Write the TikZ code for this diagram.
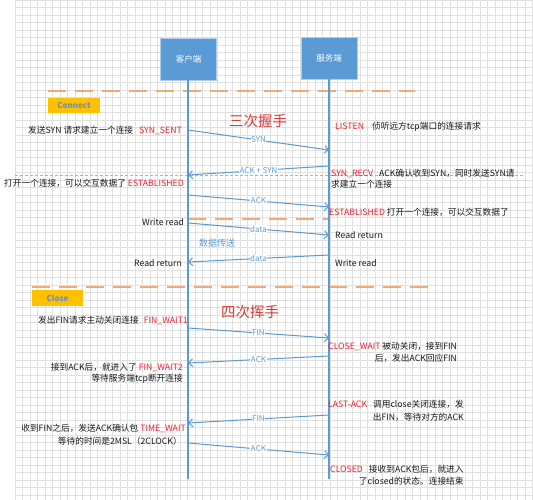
\documentclass[tikz,border=0pt]{standalone}
\usepackage{fontspec}
\setmainfont{Noto Sans CJK SC}
\usetikzlibrary{arrows.meta}
\definecolor{lb}{HTML}{5B9BD5}
\definecolor{gridc}{HTML}{E0E0E0}
\definecolor{orgd}{HTML}{F4A874}
\definecolor{gold}{HTML}{FFC000}
\definecolor{tagtxt}{HTML}{6F90B8}
\definecolor{rd}{HTML}{F0202E}
\definecolor{ttl}{HTML}{D93A3A}
\definecolor{txt}{HTML}{1A1A1A}
\tikzset{
  box/.style={draw=lb!50!white, line width=0.8pt, fill=lb, text=white, minimum width=56pt, minimum height=42pt, inner sep=0pt, font=\fontsize{8.5}{9}\selectfont},
  life/.style={draw=lb, line width=1.2pt},
  msg/.style={draw=lb, line width=1pt, -{Straight Barb[length=4pt,width=8pt]}},
  lbl/.style={fill=white, text=lb, inner sep=0.6pt, font=\fontsize{8}{9}\selectfont},
  tag/.style={fill=gold, text=tagtxt, inner sep=0pt, font=\fontsize{8}{9}\selectfont\bfseries},
  odash/.style={draw=orgd, line width=1.4pt, dash pattern=on 18pt off 9pt},
  gdash/.style={draw=black!30, line width=0.6pt, dash pattern=on 3pt off 2pt},
  note/.style={text=txt, inner sep=0pt, font=\fontsize{8.7}{10}\selectfont},
  title/.style={text=ttl, inner sep=0pt, font=\fontsize{14.5}{16}\selectfont},
}
\newcommand{\st}[1]{\textcolor{rd}{#1}}
\begin{document}
\begin{tikzpicture}[x=1pt,y=-1pt]
\useasboundingbox (0,0) rectangle (533,500);
\fill[white] (0,0) rectangle (533,500);
% grid
\foreach \i in {0,...,69} \draw[gridc, line width=0.4pt] (15+\i*7.5,0) -- (15+\i*7.5,500);
\foreach \j in {0,...,66} \draw[gridc, line width=0.4pt] (15,\j*7.5) -- (533,\j*7.5);

% section dashed lines
\draw[odash] (48,91) -- (415,91);
\draw[odash] (188,219) -- (329,219);
\draw[odash] (32,287) -- (430,287);
\draw[gdash] (15,175) -- (523,175);

% tags
\node[tag, minimum width=52pt, minimum height=15pt] (connect) at (74,105.5) {Connect};
\node[tag, minimum width=51pt, minimum height=16pt] (close) at (57.5,298) {Close};

% participants
\node[box] (cli) at (188.5,59) {客户端};
\node[box] (srv) at (329,58) {服务端};
\coordinate (cend) at (188,479);
\coordinate (send) at (329,479);
\draw[life] (cli.south -| cend) -- (cend);
\draw[life] (srv.south -| send) -- (send);

% message coordinates
\coordinate (c1) at (188,130); \coordinate (s1) at (329,150);
\coordinate (s2) at (329,166); \coordinate (c2) at (188,175);
\coordinate (c3) at (188,195); \coordinate (s3) at (329,207);
\coordinate (c4) at (188,223); \coordinate (s4) at (329,235);
\coordinate (s5) at (329,255); \coordinate (c5) at (188,262);
\coordinate (c6) at (188,328); \coordinate (s6) at (329,338);
\coordinate (s7) at (329,356); \coordinate (c7) at (188,363);
\coordinate (s8) at (329,415); \coordinate (c8) at (188,423);
\coordinate (c9) at (188,443); \coordinate (s9) at (329,455);

\draw[msg] (c1) -- node[lbl]{SYN} (s1);
\draw[msg] (s2) -- node[lbl]{ACK + SYN} (c2);
\draw[msg] (c3) -- node[lbl]{ACK} (s3);
\draw[msg] (c4) -- node[lbl]{data} (s4);
\draw[msg] (s5) -- node[lbl]{data} (c5);
\draw[msg] (c6) -- node[lbl]{FIN} (s6);
\draw[msg] (s7) -- node[lbl]{ACK} (c7);
\draw[msg] (s8) -- node[lbl]{FIN} (c8);
\draw[msg] (c9) -- node[lbl]{ACK} (s9);

% titles
\node[title] (t3) at (258,121) {三次握手};
\node[title] (t4) at (250,312) {四次挥手};
\node[text=lb, inner sep=0pt, font=\fontsize{9}{10}\selectfont] (xfer) at (217,243) {数据传送};

% client-side notes
\node[note, anchor=east] (n1) at (182,130) {发送SYN 请求建立一个连接\hspace{6pt}\st{SYN\_SENT}};
\node[note, anchor=east] (n2) at (184,183) {打开一个连接，可以交互数据了 \st{ESTABLISHED}};
\node[note, anchor=east] (n3) at (184,222) {Write read};
\node[note, anchor=east] (n4) at (182,263) {Read return};
\node[note, anchor=east] (n5) at (188,320) {发出FIN请求主动关闭连接\hspace{5pt}\st{FIN\_WAIT1}};
\node[note, anchor=east] (n6) at (183,367) {接到ACK后，就进入了 \st{FIN\_WAIT2}};
\node[note, anchor=east] (n6b) at (183,379) {等待服务端tcp断开连接};
\node[note, anchor=east] (n7) at (186,428) {收到FIN之后，发送ACK确认包 \st{TIME\_WAIT}};
\node[note, anchor=east] (n7b) at (182,441) {等待的时间是2MSL（2CLOCK）};

% server-side notes
\node[note, anchor=west] (m1) at (335,127) {\st{LISTEN}\hspace{8pt}侦听远方tcp端口的连接请求};
\node[note, anchor=west] (m2) at (331,173) {\st{SYN\_RECV}\hspace{6pt}ACK确认收到SYN，同时发送SYN请};
\node[note, anchor=west] (m2b) at (331,184) {求建立一个连接};
\node[note, anchor=west] (m3) at (329,212) {\st{ESTABLISHED} 打开一个连接，可以交互数据了};
\node[note, anchor=west] (m4) at (335,235) {Read return};
\node[note, anchor=west] (m5) at (335,263) {Write read};
\node[note, anchor=west] (m6) at (328,346) {\st{CLOSE\_WAIT} 被动关闭，接到FIN};
\node[note, anchor=east] (m6b) at ([yshift=-12pt]m6.east) {后，发出ACK回应FIN};
\node[note, anchor=west] (m7) at (328,404) {\st{LAST-ACK}\hspace{6pt}调用close关闭连接，发};
\node[note, anchor=east] (m7b) at ([yshift=-13pt]m7.east) {出FIN，等待对方的ACK};
\node[note, anchor=west] (m8) at (330,469) {\st{CLOSED}\hspace{6pt}接收到ACK包后，就进入};
\node[note, anchor=east] (m8b) at ([yshift=-12pt]m8.east) {了closed的状态。连接结束};
\end{tikzpicture}
\end{document}
